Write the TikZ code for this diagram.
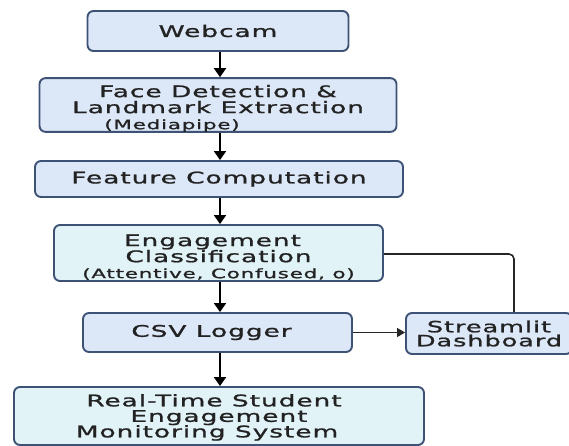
\documentclass[tikz,border=0pt]{standalone}
\usepackage{fontspec}
\setmainfont{DejaVu Sans}[FakeStretch=1.65, LetterSpace=6, FakeBold=1.2]
\usetikzlibrary{arrows.meta}

\definecolor{boxblue}{HTML}{DCE7F7}
\definecolor{boxcyan}{HTML}{E2F3F8}
\definecolor{edge}{HTML}{3D5275}
\definecolor{ink}{HTML}{222222}

\tikzset{
  stage/.style={draw=edge, line width=1.9pt, rounded corners=6pt, fill=boxblue,
    text=ink, align=center, inner sep=0pt,
    font=\fontsize{16}{16}\selectfont},
  stagecyan/.style={stage, fill=boxcyan},
  flow/.style={line width=2pt, draw=black, -{Triangle[length=9pt,width=12pt]}},
  sideflow/.style={line width=1.4pt, draw=black!85, -{Triangle[length=8pt,width=9pt]}},
  feed/.style={line width=1.6pt, draw=black!85, rounded corners=5pt},
}
\newcommand{\subtxt}{\fontsize{13}{13.5}\selectfont}
% invisible rule that lowers a text block inside its box
\newcommand{\lift}[1]{\rule{0pt}{#1}}

\begin{document}
\begin{tikzpicture}[x=1pt, y=-1pt]
  \useasboundingbox (0,0) rectangle (569,446);

  \node[stage, minimum width=261pt, minimum height=40pt] (web) at (218,31) {Webcam};
  \node[stage, minimum width=357pt, minimum height=52pt] (face) at (218,105)
    {\lift{19pt}Face Detection \&\\Landmark Extraction\hspace*{16pt}\\{\subtxt (Mediapipe)\hspace*{92pt}}};
  \node[stage, minimum width=368pt, minimum height=36pt] (feat) at (219,179) {Feature Computation};
  \node[stagecyan, minimum width=329pt, minimum height=56pt] (eng) at (218.5,253)
    {\lift{20pt}Engagement\hspace*{12pt}\\Classification\hspace*{10pt}\\{\subtxt (Attentive, Confused, o)}};
  \node[stage, minimum width=269pt, minimum height=39pt] (csv) at (217.5,332.5) {CSV Logger\hspace*{12pt}};
  \node[stage, minimum width=166pt, minimum height=41pt, font=\fontsize{15.5}{14}\selectfont] (dash) at (489,333.5)
    {Streamlit\\Dashboard};
  \node[stagecyan, minimum width=410pt, minimum height=58pt, font=\fontsize{16}{15.5}\selectfont] (rt) at (219,416)
    {\lift{15pt}Real-Time Student\hspace*{10pt}\\Engagement\hspace*{20pt}\\Monitoring System\hspace*{24pt}};

  \draw[flow] ([xshift=2pt]web.south) -- ([xshift=2pt]web.south |- face.north);
  \draw[flow] ([xshift=2pt]face.south) -- ([xshift=2pt]face.south |- feat.north);
  \draw[flow] ([xshift=1pt]feat.south) -- ([xshift=1pt]feat.south |- eng.north);
  \draw[flow] ([xshift=1.5pt]eng.south) -- ([xshift=1.5pt]eng.south |- csv.north);
  \draw[flow] ([xshift=2.5pt]csv.south) -- ([xshift=2.5pt]csv.south |- rt.north);
  \draw[sideflow] (csv.east) -- (csv.east -| dash.west);
  \draw[feed] ([yshift=-1pt]eng.east) -| ([xshift=25pt]dash.north);
\end{tikzpicture}
\end{document}
